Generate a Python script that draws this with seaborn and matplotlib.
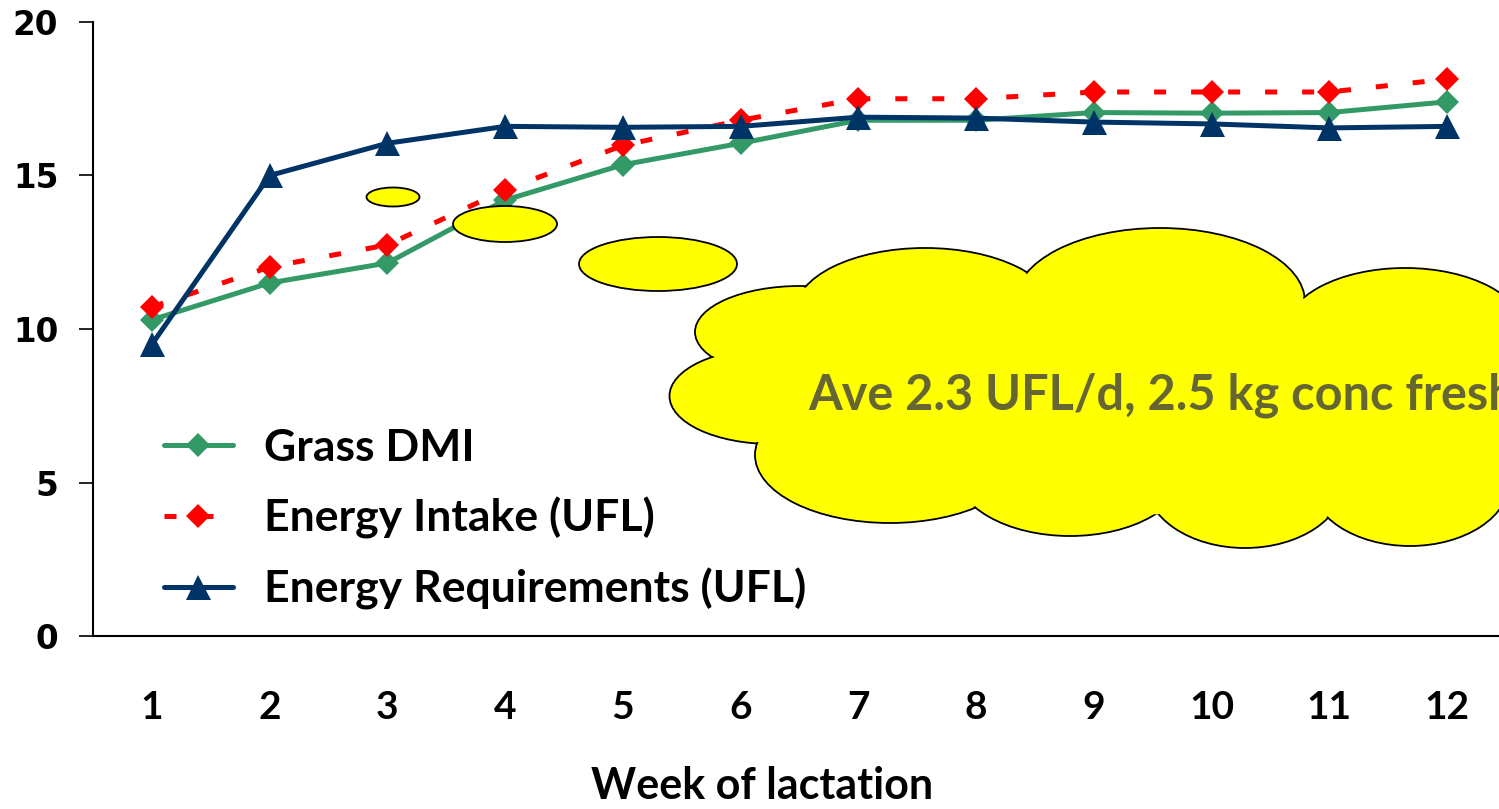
import numpy as np
import pandas as pd
import seaborn as sns
import matplotlib
matplotlib.use("Agg")
import matplotlib.pyplot as plt
from matplotlib.patches import Ellipse
from matplotlib.ticker import FixedLocator, NullFormatter

# ---------------- data ----------------
weeks = list(range(1, 13))
week_labels = [str(w) for w in weeks]
grass_dmi = [10.3, 11.5, 12.15, 14.2, 15.35, 16.05, 16.8, 16.8, 17.05, 17.03, 17.05, 17.4]
energy_intake = [10.72, 12.02, 12.74, 14.53, 15.98, 16.8, 17.5, 17.5, 17.72, 17.72, 17.72, 18.14]
energy_req = [9.5, 15.0, 16.05, 16.6, 16.57, 16.6, 16.9, 16.87, 16.74, 16.68, 16.55, 16.6]
series_names = ["Grass DMI", "Energy Intake (UFL)", "Energy Requirements (UFL)"]
y_ticks = [0, 5, 10, 15, 20]
x_title = "Week of lactation"
callout_text = "Ave 2.3 UFL/d, 2.5 kg conc fresh"

W, H = 1499, 809
sns.set_theme(style="white")
plt.rcParams["font.family"] = ["Lato", "DejaVu Sans"]
plt.rcParams.update({"text.color": "black", "axes.labelcolor": "black",
                     "xtick.color": "black", "ytick.color": "black"})

fig = plt.figure(figsize=(W / 100, H / 100), dpi=100)
fig.patch.set_facecolor("white")

# axes: left 93px, bottom y=636px, top y=22px, right 1506px (beyond figure)
ax = fig.add_axes([93 / W, (H - 636) / H, (1506 - 93) / W, (636 - 22) / H])
ax.set_facecolor("white")

df = pd.DataFrame({"week": weeks, "grass": grass_dmi, "intake": energy_intake, "req": energy_req})

lw = 3.6
sns.lineplot(data=df, x="week", y="grass", ax=ax, color="#339966", lw=lw,
             marker="D", markersize=12.5, markeredgewidth=0, label=series_names[0], zorder=3)
sns.lineplot(data=df, x="week", y="intake", ax=ax, color="#FF0000", lw=lw,
             marker="D", markersize=12.5, markeredgewidth=0, label=series_names[1],
             dashes=False, zorder=4)
ax.lines[-1].set_dashes((2.4, 5))
sns.lineplot(data=df, x="week", y="req", ax=ax, color="#003366", lw=lw,
             marker="^", markersize=18, markeredgewidth=0, label=series_names[2], zorder=5)

ax.set_xlim(0.5, 12.5)
ax.set_ylim(0, 20)
ax.set_yticks(y_ticks)
ax.set_yticklabels([str(v) for v in y_ticks], fontfamily="DejaVu Sans",
                   fontweight="bold", fontsize=23.5)

# x: ticks at category boundaries, labels at centers
ax.xaxis.set_major_locator(FixedLocator(np.arange(0.5, 13, 1)))
ax.xaxis.set_major_formatter(NullFormatter())
ax.set_xticks(weeks, minor=True)
ax.set_xticklabels(week_labels, minor=True, fontweight="bold", fontsize=28)
ax.tick_params(axis="x", which="major", direction="out", length=9.5, width=1.2, color="black")
ax.tick_params(axis="x", which="minor", length=0, pad=39)
ax.tick_params(axis="y", direction="out", length=10, width=1.2, color="black", pad=15, left=True)

ax.set_xlabel(x_title, fontsize=31, fontweight="bold")
ax.xaxis.set_label_coords((762 - 93) / (1506 - 93), -0.212)
ax.set_ylabel("")

for s in ["top", "right"]:
    ax.spines[s].set_visible(False)
for s in ["left", "bottom"]:
    ax.spines[s].set_color("black")
    ax.spines[s].set_linewidth(1.5)

leg = ax.legend(loc="upper left", bbox_to_anchor=(146 / W, (H - 410) / H),
                bbox_transform=fig.transFigure, frameon=False,
                prop={"weight": "bold", "size": 32}, handlelength=1.55,
                handletextpad=0.7, labelspacing=0.65, borderaxespad=0)
for t in leg.get_texts():
    t.set_color("black")

# overlay for the callout shapes (pixel coordinates)
ov = fig.add_axes([0, 0, 1, 1], zorder=10)
ov.set_xlim(0, W)
ov.set_ylim(H, 0)
ov.axis("off")
ov.patch.set_alpha(0)

yellow = "#FFFF00"
small_bubbles = [(393, 197, 53, 19), (505, 224, 104, 36), (658, 264, 158, 54)]
for cx, cy, w, h in small_bubbles:
    ov.add_patch(Ellipse((cx, cy), w, h, facecolor=yellow, edgecolor="black", lw=1.3))

cloud = [
    (800, 332, 210, 92),
    (772, 396, 205, 96),
    (925, 312, 260, 128),
    (1160, 302, 290, 148),
    (1405, 332, 240, 128),
    (1470, 400, 200, 140),
    (890, 455, 270, 136),
    (1070, 470, 230, 132),
    (1245, 480, 200, 136),
    (1410, 480, 200, 132),
]
for cx, cy, w, h in cloud:
    ov.add_patch(Ellipse((cx, cy), w, h, facecolor=yellow, edgecolor="black", lw=1.3, zorder=1))
for cx, cy, w, h in cloud:
    ov.add_patch(Ellipse((cx, cy), w - 3, h - 3, facecolor=yellow, edgecolor="none", zorder=2))
ov.add_patch(Ellipse((1120, 400), 640, 230, facecolor=yellow, edgecolor="none", zorder=2))

ov.text(808, 395, callout_text, color="#666633", fontsize=35, fontweight="bold",
        ha="left", va="center", zorder=3)

fig.savefig("out.png", dpi=100, facecolor="white")
